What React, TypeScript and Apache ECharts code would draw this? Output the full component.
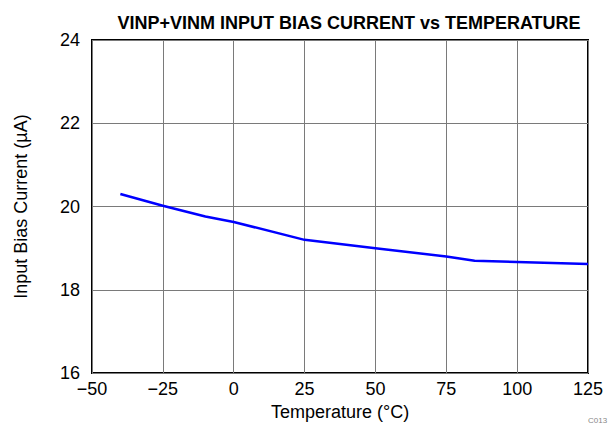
import React, { useEffect, useRef } from "react";
import * as echarts from "echarts";

const temperatures = [-40, -25, -10, 0, 25, 50, 75, 85, 100, 125];
const biasCurrent = [20.3, 20.02, 19.76, 19.63, 19.2, 19.0, 18.8, 18.7, 18.67, 18.62];

const FONT = "'Liberation Sans', Arial, sans-serif";

export default function App() {
  const ref = useRef<HTMLDivElement>(null);
  useEffect(() => {
    document.body.style.margin = "0";
    const chart = echarts.init(ref.current!, undefined, { renderer: "svg" });
    chart.setOption({
      animation: false,
      title: {
        text: "VINP+VINM INPUT BIAS CURRENT vs TEMPERATURE",
        left: 344,
        textAlign: "center",
        top: 9,
        textStyle: { fontFamily: FONT, fontSize: 18, fontWeight: "bold", color: "#000" },
      },
      grid: {
        left: 92,
        right: 24,
        top: 40,
        bottom: 49,
        containLabel: false,
        show: true,
        borderColor: "#000",
        borderWidth: 2,
        backgroundColor: "transparent",
      },
      xAxis: {
        type: "value",
        min: -50,
        max: 125,
        interval: 25,
        name: "Temperature (°C)",
        nameLocation: "middle",
        nameGap: 24,
        nameTextStyle: { fontFamily: FONT, fontSize: 18, color: "#000" },
        axisLine: { show: false },
        axisTick: { show: false },
        axisLabel: {
          fontFamily: FONT,
          fontSize: 18,
          color: "#000",
          margin: 7,
          formatter: (v: number) => (v < 0 ? "\u2212" + Math.abs(v) : String(v)),
        },
        splitLine: { lineStyle: { color: "#7a7a7a", width: 1 } },
      },
      yAxis: {
        type: "value",
        min: 16,
        max: 24,
        interval: 2,
        name: "Input Bias Current (µA)",
        nameLocation: "middle",
        nameGap: 62,
        nameTextStyle: { fontFamily: FONT, fontSize: 18, color: "#000" },
        axisLine: { show: false },
        axisTick: { show: false },
        axisLabel: { fontFamily: FONT, fontSize: 18, color: "#000", margin: 12 },
        splitLine: { lineStyle: { color: "#7a7a7a", width: 1 } },
      },
      graphic: [
        {
          type: "text",
          x: 588,
          y: 416,
          style: { text: "C013", fontFamily: FONT, fontSize: 8, fill: "#888" },
        },
      ],
      series: [
        {
          type: "line",
          data: temperatures.map((t, i) => [t, biasCurrent[i]]),
          showSymbol: false,
          lineStyle: { color: "#0000ff", width: 2.5 },
          z: 50,
        },
      ],
    });
    return () => chart.dispose();
  }, []);
  return (
    <div
      ref={ref}
      style={{ position: "absolute", left: 0, top: 0, width: 612, height: 426 }}
    />
  );
}
